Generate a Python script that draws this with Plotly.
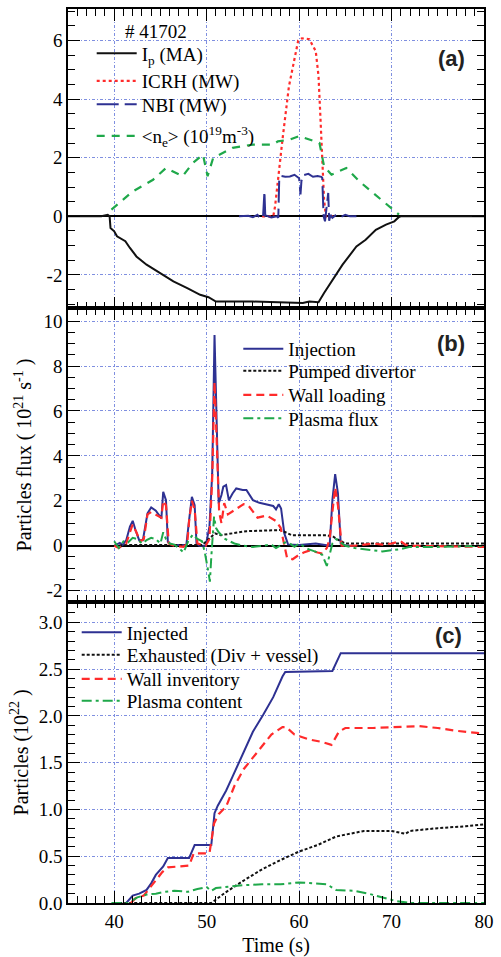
import plotly.graph_objects as go

# ---------------- Panel (a) ----------------
ip_t = [35, 38.6, 39.3, 39.5, 39.6, 40.0, 40.3, 41.2, 41.7, 42.4, 43.5, 45.0, 46.4, 47.9, 49.3, 50.2, 51.0,
        55.0, 58.9, 60.4, 61.1, 62.1, 62.7, 63.6, 64.7, 66.2, 67.2, 68.3, 69.4, 70.3, 70.8, 71.0, 80]
ip_v = [0, 0, 0.05, 0.0, -0.40, -0.51, -0.68, -0.85, -1.08, -1.37, -1.65, -1.94, -2.22, -2.45, -2.68, -2.76, -2.91,
        -2.91, -2.93, -2.96, -2.91, -2.93, -2.62, -2.17, -1.65, -1.03, -0.80, -0.46, -0.28, -0.17, -0.02, 0, 0]

icrh_t = [56.0, 57.2, 57.4, 57.7, 58.2, 58.9, 59.4, 59.9, 60.3, 61.1, 61.8, 62.1, 62.3, 62.5, 62.7, 62.9, 64.0]
icrh_v = [0, 0, 0.34, 1.25, 2.62, 4.44, 5.24, 6.0, 6.08, 6.05, 5.64, 4.79, 3.42, 1.94, 0.57, 0, 0]

nbi_t = [53.5, 54.5, 55.0, 55.5, 55.8, 56.1, 56.25, 56.35, 56.5, 57.0, 57.6, 57.75, 57.85, 58.0, 58.5, 59.0, 59.5,
         60.0, 60.15, 60.25, 60.4, 61.0, 61.5, 62.0, 62.4, 62.5, 62.65, 62.8, 63.15, 63.25, 63.4, 63.6, 64.0, 64.5,
         65.0, 65.5, 66.2]
nbi_v = [0, 0.02, -0.03, 0.05, -0.08, 0.0, 0.85, -0.1, 0.02, -0.04, 0.0, -0.05, 1.3, 1.38, 1.35, 1.36, 1.42,
         1.3, 0.75, 1.2, 1.4, 1.45, 1.35, 1.38, 1.35, 1.32, 0.0, -0.17, 0.8, -0.15, 0.05, -0.05, 0.05, -0.02,
         0.05, 0.0, 0.0]

ne_t = [39.7, 42.0, 44.2, 45.6, 47.4, 48.5, 49.6, 50.1, 50.7, 52.8, 55.0, 57.2, 57.7, 59.0, 60.0, 62.2, 62.7,
        63.5, 65.1, 66.5, 68.0, 69.8, 70.8]
ne_v = [0.23, 0.85, 1.25, 1.65, 1.37, 1.82, 2.11, 1.37, 1.99, 2.34, 2.45, 2.45, 2.56, 2.62, 2.74, 2.51, 1.71,
        1.42, 1.65, 1.20, 0.80, 0.34, 0.06]

# ---------------- Panel (b) ----------------
injf_t = [40.0, 40.6, 40.9, 41.3, 41.7, 42.0, 42.3, 42.7, 43.1, 43.6, 44.0, 44.5, 45.1, 45.3, 45.6, 45.8, 46.2,
          47.8, 48.1, 48.4, 48.7, 48.9, 49.2, 49.9, 50.3, 50.6, 50.85, 51.1, 51.3, 51.6, 51.8, 52.1, 52.4, 52.8,
          53.2, 53.9, 54.3, 55.0, 55.7, 56.4, 57.2, 57.5, 57.8, 58.05, 58.4, 58.8, 60.0, 61.8, 63.3, 63.6, 63.9,
          64.2, 64.5, 65.1, 66.0]
injf_v = [0, 0.13, 0.03, 0.25, 0.85, 1.11, 0.7, 0.25, 0.25, 1.44, 1.71, 1.56, 1.22, 2.40, 2.03, 0.18, 0.03,
          0.03, 1.14, 2.18, 1.81, 0.1, 0, 0, 0.85, 3.22, 9.38, 5.3, 1.88, 2.26, 2.63, 2.7, 2.03, 2.33,
          2.55, 2.48, 2.48, 2.03, 1.91, 1.85, 1.77, 1.62, 1.85, 1.66, 0.55, 0.06, 0.03, 0.1, 0.0, 2.03, 3.19,
          2.33, 0.1, 0.0, 0.0]

pump_t = [40, 41, 45, 49.5, 50.3, 50.9, 51.5, 52.8, 53.5, 54.3, 58.0, 58.7, 59.2, 63.0, 63.7, 64.3, 65.0, 66.0,
          70, 75, 80]
pump_v = [0, 0.03, 0.03, 0.03, 0.33, 0.55, 0.47, 0.55, 0.62, 0.65, 0.7, 0.55, 0.47, 0.47, 0.4, 0.25, 0.1, 0.1,
          0.1, 0.1, 0.1]

wall_t = [40.0, 40.5, 41.0, 41.3, 41.7, 42.0, 42.4, 42.8, 43.2, 43.6, 44.0, 44.5, 45.1, 45.3, 45.6, 45.9, 46.5,
          47.5, 47.9, 48.1, 48.4, 48.7, 49.0, 49.9, 50.3, 50.6, 50.85, 51.1, 51.35, 51.6, 51.9, 52.3, 53.0, 54.0,
          54.5, 55.0, 55.5, 56.5, 57.5, 58.0, 58.4, 58.7, 59.3, 60.0, 60.5, 61.2, 62.0, 62.5, 63.0, 63.3, 63.6,
          63.9, 64.2, 64.6, 66.0, 67.0, 68.0, 69.0, 70.0, 71.0, 71.5, 72.0, 75.0, 80.0]
wall_v = [0, -0.1, 0.05, 0.1, 0.6, 0.95, 0.6, 0.2, 0.3, 1.4, 1.5, 1.4, 1.25, 2.0, 1.8, 0.1, 0.0,
          -0.05, 0.1, 1.1, 2.0, 1.6, 0.1, 0.0, 0.3, 3.0, 7.3, 4.5, 1.5, 1.0, 1.9, 1.4, 1.6, 1.85,
          1.8, 1.5, 1.25, 1.35, 1.1, 0.8, 0.1, -0.55, -0.6, -0.4, -0.3, -0.2, -0.3, -0.35, -0.1, 0.3, 1.5,
          2.6, 1.8, 0.0, 0.0, 0.05, 0.1, 0.05, 0.1, 0.2, 0.05, 0.0, -0.03, -0.05]

pf_t = [40, 40.5, 41, 41.5, 42.0, 42.5, 43, 43.5, 44, 44.5, 45, 45.3, 45.6, 46, 46.5, 47, 47.5, 48, 48.5, 49,
        49.5, 49.8, 50.2, 50.35, 50.5, 50.8, 51.0, 51.3, 52, 53, 54, 55, 56, 57, 57.5, 58.5, 59, 59.5, 60, 61,
        62, 62.5, 63, 63.3, 63.6, 64, 64.5, 65, 66, 67, 68, 69, 70, 71, 72, 75, 80]
pf_v = [0.2, -0.1, 0.2, 0.15, 0.35, 0.3, 0.1, 0.25, 0.35, 0.3, 0.1, 0.6, 0.3, 0.1, 0.05, -0.1, -0.3, 0.2, 0.5, 0.3,
        0.2, -0.3, -1.2, -1.6, -0.5, 1.3, 0.8, 0.6, 0.3, 0.1, 0.0, -0.05, 0.0, 0.05, -0.1, 0.15, 0.1, -0.05, 0.1, -0.15,
        -0.3, -0.4, -0.9, -0.4, 0.1, 0.3, 0.15, 0.0, -0.1, -0.15, -0.2, -0.25, -0.2, -0.15, -0.05, -0.05, 0.0]

# ---------------- Panel (c) ----------------
injc_t = [41.3, 42.0, 42.7, 43.5, 44.0, 44.5, 45.3, 45.8, 48.1, 48.7, 50.5, 50.85, 51.2, 52.1, 52.8, 53.9, 55.0,
          56.1, 57.2, 58.2, 58.5, 63.6, 64.2, 64.5, 80]
injc_v = [0, 0.08, 0.10, 0.14, 0.21, 0.30, 0.39, 0.48, 0.48, 0.62, 0.62, 0.96, 1.04, 1.20, 1.35, 1.60, 1.83,
          2.01, 2.20, 2.42, 2.47, 2.48, 2.61, 2.67, 2.67]

exh_t = [40, 45, 50.5, 52, 54, 56, 58, 60, 62, 64, 65, 67, 70, 71.5, 72, 75, 78, 80]
exh_v = [0, 0, 0, 0.11, 0.24, 0.36, 0.46, 0.55, 0.62, 0.71, 0.73, 0.77, 0.77, 0.74, 0.77, 0.80, 0.82, 0.84]

wallc_t = [41.8, 42.3, 43.2, 44.2, 45.2, 45.8, 48.1, 48.6, 50.3, 50.8, 51.3, 52.1, 53.0, 54.0, 55.0, 56.0, 57.0,
           58.2, 58.6, 59.5, 61.0, 62.5, 63.5, 64.3, 65.0, 68.0, 70.0, 73.0, 75.0, 77.0, 80.0]
wallc_v = [0.0, 0.05, 0.08, 0.20, 0.33, 0.38, 0.40, 0.53, 0.53, 0.85, 0.95, 1.03, 1.25, 1.43, 1.55, 1.68, 1.80,
           1.88, 1.88, 1.80, 1.75, 1.72, 1.69, 1.83, 1.87, 1.87, 1.88, 1.89, 1.87, 1.84, 1.81]

plc_t = [39.7, 41.5, 42.5, 43.5, 44.5, 45.5, 46.5, 48, 49, 50, 50.5, 51.0, 52, 54, 56, 58, 60, 62, 63, 64, 66,
         67.5, 69, 70.5, 72, 80]
plc_v = [0, 0, 0.06, 0.09, 0.10, 0.12, 0.13, 0.12, 0.15, 0.17, 0.13, 0.16, 0.17, 0.19, 0.20, 0.20, 0.22, 0.21,
         0.20, 0.14, 0.13, 0.10, 0.06, 0.02, 0.0, 0.0]

# ---------------- styling ----------------
BLUE = "#2e3192"
RED = "#ff2b2b"
GREEN = "#1fa84a"
BLACK = "#111111"
SERIF = "Liberation Serif, 'Times New Roman', 'DejaVu Serif', serif"
SANS = "Liberation Sans, Arial, sans-serif"
FS = 19

W, H = 501, 957
ML, MR, MT, MB = 68, 17, 9, 54
PW, PH = W - ML - MR, H - MT - MB

fig = go.Figure()

def add(t, v, name, color, dash, width, ax, leg):
    fig.add_trace(go.Scatter(x=t, y=v, name=name, mode="lines",
                             line=dict(color=color, dash=dash, width=width),
                             xaxis="x" + ax, yaxis="y" + ax, legend=leg, showlegend=True))

add(ip_t, ip_v, "I<sub>p</sub> (MA)", BLACK, "solid", 2, "", "legend")
add(icrh_t, icrh_v, "ICRH (MW)", RED, "3px,3px", 2.2, "", "legend2")
add(nbi_t, nbi_v, "NBI (MW)", BLUE, "22px,6px", 2, "", "legend3")
add(ne_t, ne_v, "&lt;n<sub>e</sub>&gt; (10<sup>19</sup>m<sup>-3</sup>)", GREEN, "8px,7px", 2.2, "", "legend4")

add(injf_t, injf_v, "Injection", BLUE, "solid", 2, "2", "legend5")
add(pump_t, pump_v, "Pumped divertor", BLACK, "3px,2px", 2, "2", "legend6")
add(wall_t, wall_v, "Wall loading", RED, "8px,5px", 2.2, "2", "legend7")
add(pf_t, pf_v, "Plasma flux", GREEN, "10px,4px,3px,4px", 2, "2", "legend8")

add(injc_t, injc_v, "Injected", BLUE, "solid", 2, "3", "legend9")
add(exh_t, exh_v, "Exhausted (Div + vessel)", BLACK, "3px,2px", 2, "3", "legend10")
add(wallc_t, wallc_v, "Wall inventory", RED, "8px,5px", 2.2, "3", "legend11")
add(plc_t, plc_v, "Plasma content", GREEN, "10px,4px,3px,4px", 2, "3", "legend12")

def px2x(px):
    return (px - ML) / PW

def py2y(py):
    return (H - MB - py) / PH

# legend line-start pixel positions and centres
leg_pos = {
    "legend": (96.7, 53.3), "legend2": (96.7, 81), "legend3": (96.7, 104.3), "legend4": (96.7, 136),
    "legend5": (243.3, 349), "legend6": (243.3, 371), "legend7": (243.3, 395), "legend8": (243.3, 418.3),
    "legend9": (81.7, 632.3), "legend10": (81.7, 655), "legend11": (81.7, 679), "legend12": (81.7, 701),
}
legends = {}
for k, (lx, ly) in leg_pos.items():
    legends[k] = dict(x=px2x(lx - 5), y=py2y(ly), xanchor="left", yanchor="middle",
                      bgcolor="rgba(0,0,0,0)", borderwidth=0, itemwidth=40,
                      font=dict(family=SERIF, size=FS, color="black"))

# domains
a_bot = py2y(308.3)
b_bot = py2y(601.7)

grid = dict(showgrid=True, gridcolor="#7f8fe0", gridwidth=1, griddash="3px,2px,1px,2px")
common = dict(showline=True, linecolor="black", linewidth=1.5, mirror="allticks", automargin=False,
              ticks="inside", ticklen=12, tickwidth=1.3, tickcolor="black",
              tickfont=dict(family=SERIF, size=FS, color="black"), **grid)

def xax(show, anchor):
    d = dict(common)
    d.update(range=[35, 80], tick0=40, dtick=10, anchor=anchor, domain=[0, 1],
             showticklabels=show, zeroline=False,
             minor=dict(dtick=1, ticklen=7, ticks="inside", tickcolor="black", tickwidth=1.2, showgrid=False))
    return d

layout = dict(
    width=W, height=H, margin=dict(l=ML, r=MR, t=MT, b=MB, autoexpand=False),
    paper_bgcolor="white", plot_bgcolor="white",
    font=dict(family=SERIF, size=FS, color="black"),
    xaxis=xax(False, "y"), xaxis2=xax(False, "y2"), xaxis3=xax(True, "y3"),
)
layout["xaxis3"]["title"] = dict(text="Time (s)", font=dict(family=SERIF, size=20), standoff=8)

ya = dict(common)
ya.update(domain=[a_bot, 1], range=[-3.14, 7.08], anchor="x", tickvals=[-2, 0, 2, 4, 6],
          ticktext=["-2", "0", "2", "4", "6"], zeroline=True, zerolinecolor="black", zerolinewidth=2,
          minor=dict(dtick=0.5, ticklen=7, ticks="inside", tickcolor="black", tickwidth=1.2, showgrid=False))
yb = dict(common)
yb.update(domain=[b_bot, a_bot], range=[-2.49, 10.57], anchor="x2", tickvals=[-2, 0, 2, 4, 6, 8, 10],
          ticktext=["-2", "0", "2", "4", "6", "8", "10"], zeroline=True, zerolinecolor="black", zerolinewidth=2,
          minor=dict(dtick=0.5, ticklen=7, ticks="inside", tickcolor="black", tickwidth=1.2, showgrid=False),
          title=dict(text="Particles flux ( 10<sup>21</sup> s<sup>-1</sup> )", font=dict(family=SERIF, size=20),
                     standoff=6))
yc = dict(common)
yc.update(domain=[0, b_bot], range=[0, 3.22], anchor="x3", tick0=0, dtick=0.5, tickformat=".1f", zeroline=False,
          minor=dict(dtick=0.1, ticklen=7, ticks="inside", tickcolor="black", tickwidth=1.2, showgrid=False),
          title=dict(text="Particles (10<sup>22</sup> )", font=dict(family=SERIF, size=20), standoff=5))
layout["yaxis"] = ya
layout["yaxis2"] = yb
layout["yaxis3"] = yc
layout.update(legends)

layout["annotations"] = [
    dict(text="# 41702", x=px2x(123), y=py2y(31), xref="paper", yref="paper", xanchor="left", yanchor="middle",
         showarrow=False, font=dict(family=SERIF, size=FS, color="black")),
    dict(text="<b>(a)</b>", x=px2x(467), y=py2y(58), xref="paper", yref="paper", xanchor="right",
         yanchor="middle", showarrow=False, font=dict(family=SANS, size=22, color="#222")),
    dict(text="<b>(b)</b>", x=px2x(467), y=py2y(343), xref="paper", yref="paper", xanchor="right",
         yanchor="middle", showarrow=False, font=dict(family=SANS, size=22, color="#222")),
    dict(text="<b>(c)</b>", x=px2x(464), y=py2y(635), xref="paper", yref="paper", xanchor="right",
         yanchor="middle", showarrow=False, font=dict(family=SANS, size=22, color="#222")),
]

fig.update_layout(**layout)
fig.write_html("out.html", config={"displayModeBar": False},
               post_script="document.body.style.margin='0';document.body.style.padding='0';")
